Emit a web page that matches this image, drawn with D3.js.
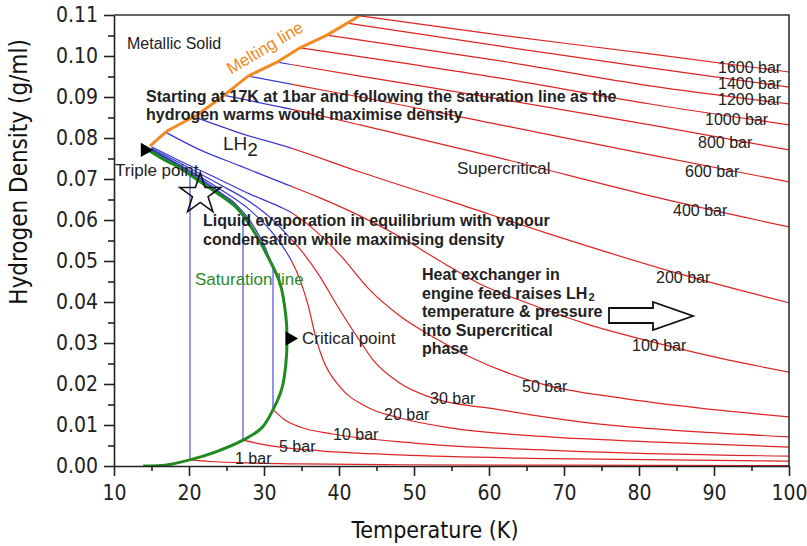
<!DOCTYPE html>
<html>
<head>
<meta charset="utf-8">
<script src="https://cdn.jsdelivr.net/npm/d3@7"></script>
<style>
  body { margin: 0; background: #fff; }
  svg { display: block; }
</style>
</head>
<body>
<script>
// axis ticks
var xTicks = [10, 20, 30, 40, 50, 60, 70, 80, 90, 100];
var yTicks = [0, 0.01, 0.02, 0.03, 0.04, 0.05, 0.06, 0.07, 0.08, 0.09, 0.10, 0.11];

// melting line and saturation (coexistence) line, [T (K), density (g/ml)]
var melting = [[14.8, 0.0780], [16.0, 0.0800], [17.07, 0.0817], [21.07, 0.0856], [24.53, 0.0902],
    [27.87, 0.0951], [31.73, 0.0985], [34.8, 0.1020], [38.4, 0.1051], [42.93, 0.1100]];
var saturation = [[13.9, 0.0000], [16.8, 0.0002], [20.1, 0.0015], [23.5, 0.0034], [27.2, 0.0063],
    [29.7, 0.0093], [31.3, 0.0141], [32.4, 0.0190], [32.9, 0.0246], [33.07, 0.0307], [32.93, 0.0363],
    [32.13, 0.0446], [30.53, 0.0510], [28.53, 0.0576], [26.4, 0.0629], [23.73, 0.0666],
    [21.07, 0.0698], [18.8, 0.0727], [16.8, 0.0746], [14.8, 0.0768]];

// supercritical isobars (blue below ~33.6 K, red above)
var p1600 = [[42.8, 0.1098], [61.5, 0.1051], [81.5, 0.1005], [100, 0.0961]];
var p1400 = [[41.07, 0.1080], [61.5, 0.1024], [81.5, 0.0971], [100, 0.0924]];
var p1200 = [[38.4, 0.1051], [61.5, 0.0988], [81.5, 0.0927], [100, 0.0883]];
var p1000 = [[34.8, 0.1020], [61.5, 0.0946], [81.5, 0.0883], [100, 0.0832]];
var p800 = [[31.73, 0.0985], [42.8, 0.0951], [61.5, 0.0895], [81.5, 0.0832], [100, 0.0771]];
var p600 = [[27.87, 0.0951], [34.8, 0.0927], [42.8, 0.0900], [61.5, 0.0832], [81.5, 0.0759], [100, 0.0693]];
var p400 = [[24.4, 0.0905], [32.13, 0.0876], [42.8, 0.0832], [61.5, 0.0751], [81.5, 0.0659], [100, 0.0583]];
var p200 = [[21.07, 0.0849], [26.8, 0.0812], [33.5, 0.0776], [42.8, 0.0717], [54.8, 0.0646],
    [67.7, 0.0568], [85.9, 0.0466], [100, 0.0398]];
var p100 = [[16.8, 0.0815], [21.47, 0.0771], [26.8, 0.0732], [32.13, 0.0693], [37.47, 0.0654],
    [42.8, 0.0610], [48.13, 0.0559], [53.47, 0.0500], [58.8, 0.0444], [65.47, 0.0395],
    [73.07, 0.0346], [82.8, 0.0298], [90.8, 0.0263], [100, 0.0229]];
var p50 = [[15.07, 0.0778], [18.8, 0.0744], [23.73, 0.0702], [28.13, 0.0663], [32.13, 0.0632],
    [33.47, 0.0620], [36.13, 0.0585], [40.13, 0.0515], [44.13, 0.0429], [48.13, 0.0366],
    [52.8, 0.0312], [57.47, 0.0266], [67.47, 0.0198], [77.47, 0.0166], [88.13, 0.0141], [100, 0.0120]];
var p30 = [[14.93, 0.0776], [18.8, 0.0739], [23.73, 0.0690], [28.13, 0.0644], [31.47, 0.0595],
    [33.47, 0.0556], [34.8, 0.0529], [37.07, 0.0473], [40.13, 0.0380], [42.53, 0.0312],
    [44.53, 0.0259], [48.13, 0.0202], [52.13, 0.0168], [61.47, 0.0137], [74.8, 0.0102],
    [88.13, 0.0083], [100, 0.0071]];
var p20 = [[14.93, 0.0773], [18.8, 0.0734], [23.73, 0.0680], [28.13, 0.0624], [30.8, 0.0576],
    [32.8, 0.0527], [33.73, 0.0498], [34.8, 0.0454], [35.87, 0.0393], [36.93, 0.0312],
    [37.87, 0.0259], [40.13, 0.0193], [43.73, 0.0144], [48.13, 0.0117], [54.8, 0.0093],
    [68.13, 0.0071], [81.47, 0.0059], [100, 0.0046]];

// subcritical isobars: liquid branch, boiling (vertical) and vapour branch
var p10Liquid = [[14.93, 0.0771], [18.8, 0.0732], [23.73, 0.0673], [28.13, 0.0598], [30.13, 0.0534], [31.2, 0.0484]];
var p10Boil = [[31.2, 0.0484], [31.2, 0.0138]];
var p10Vapour = [[31.2, 0.0138], [32.8, 0.0112], [34.8, 0.0095], [39.2, 0.0078], [50, 0.0056], [70, 0.0037], [100, 0.0024]];
var p5Liquid = [[14.93, 0.0770], [18.8, 0.0729], [23.73, 0.0670], [26.4, 0.0634], [27.2, 0.0611]];
var p5Boil = [[27.2, 0.0611], [27.2, 0.0063]];
var p5Vapour = [[27.2, 0.0063], [29.47, 0.0054], [32.13, 0.0046], [37.47, 0.0037], [48.13, 0.0027], [68.13, 0.0018], [100, 0.0012]];
var p1Liquid = [[14.8, 0.0768], [16.8, 0.0746], [18.8, 0.0727], [20.13, 0.0710]];
var p1Boil = [[20.13, 0.0710], [20.13, 0.0015]];
var p1Vapour = [[20.13, 0.0015], [22.8, 0.0011], [26.8, 0.0008], [34.8, 0.0005], [48.13, 0.0003], [68.13, 0.0002], [100, 0.0001]];

var isoLabels = ["1600 bar", "1400 bar", "1200 bar", "1000 bar", "800 bar", "600 bar", "400 bar",
    "200 bar", "100 bar", "50 bar", "30 bar", "20 bar", "10 bar", "5 bar", "1 bar"];
var labelPos = [[718, 67], [718, 83], [718, 99], [705, 119], [698, 142], [685, 171], [673, 210],
    [656, 277], [632, 345], [522, 386], [430, 398], [384, 414], [333, 434], [279, 446], [235, 458]];

var triplePt = [14.8, 0.0771];
var criticalPt = [32.9, 0.0311];
var starPt = [21.5, 0.0663];

var W = 807, H = 546;
var plotL = 114, plotR = 789, plotT = 15, plotB = 466;
var narrow = "'Liberation Sans Narrow','Arial Narrow','DejaVu Sans Condensed',sans-serif";
var sans = "'Liberation Sans',Arial,Helvetica,sans-serif";
var red = "#dd2424", blue = "#3838d0", lightBlue = "#7a7ae8";

var x = d3.scaleLinear().domain([10, 100]).range([plotL, plotR]);
var y = d3.scaleLinear().domain([0, 0.11]).range([plotB, plotT]);

var svg = d3.select("body").append("svg")
    .attr("width", W)
    .attr("height", H);

var defs = svg.append("defs");
var tc = 33.6;
defs.append("clipPath").attr("id", "liq").append("rect")
    .attr("x", plotL).attr("y", plotT).attr("width", x(tc) - plotL).attr("height", plotB - plotT);
defs.append("clipPath").attr("id", "gas").append("rect")
    .attr("x", x(tc)).attr("y", plotT).attr("width", plotR - x(tc)).attr("height", plotB - plotT);
defs.append("clipPath").attr("id", "plot").append("rect")
    .attr("x", plotL).attr("y", plotT).attr("width", plotR - plotL).attr("height", plotB - plotT);

var line = d3.line()
    .x(function (d) { return x(d[0]); })
    .y(function (d) { return y(d[1]); })
    .curve(d3.curveMonotoneX);
var straight = d3.line()
    .x(function (d) { return x(d[0]); })
    .y(function (d) { return y(d[1]); });

var plot = svg.append("g").attr("clip-path", "url(#plot)");

// supercritical isobars, drawn twice and clipped to colour them
var superIso = [p1600, p1400, p1200, p1000, p800, p600, p400, p200, p100, p50, p30, p20];
[["liq", blue], ["gas", red]].forEach(function (c) {
    plot.append("g").attr("clip-path", "url(#" + c[0] + ")")
        .selectAll("path").data(superIso).enter().append("path")
        .attr("d", line)
        .attr("fill", "none")
        .attr("stroke", c[1])
        .attr("stroke-width", 1.2);
});

// subcritical isobars
plot.selectAll(".liquid").data([p10Liquid, p5Liquid, p1Liquid]).enter().append("path")
    .attr("class", "liquid")
    .attr("d", line).attr("fill", "none").attr("stroke", blue).attr("stroke-width", 1.2);
plot.selectAll(".boil").data([p10Boil, p5Boil, p1Boil]).enter().append("path")
    .attr("class", "boil")
    .attr("d", straight)
    .attr("fill", "none").attr("stroke", lightBlue).attr("stroke-width", 1.6);
plot.selectAll(".vapour").data([p10Vapour, p5Vapour, p1Vapour]).enter().append("path")
    .attr("class", "vapour")
    .attr("d", line).attr("fill", "none").attr("stroke", red).attr("stroke-width", 1.2);

// saturation line
plot.append("path")
    .datum(saturation)
    .attr("d", d3.line().x(function (d) { return x(d[0]); }).y(function (d) { return y(d[1]); })
        .curve(d3.curveCatmullRom.alpha(0.5)))
    .attr("fill", "none").attr("stroke", "#1f8a1f").attr("stroke-width", 3);

// melting line
plot.append("path")
    .datum(melting)
    .attr("d", straight)
    .attr("fill", "none").attr("stroke", "#f28a26").attr("stroke-width", 3)
    .attr("stroke-linejoin", "round");

// axes
svg.append("g").attr("transform", "translate(0," + plotB + ")")
    .call(d3.axisBottom(x).tickValues(xTicks).tickSize(10).tickSizeOuter(0).tickPadding(9)
        .tickFormat(d3.format("d")));
svg.append("g").attr("transform", "translate(0," + plotB + ")")
    .call(d3.axisBottom(x).tickValues(d3.range(15, 100, 10)).tickSize(5).tickSizeOuter(0).tickFormat(""))
    .select(".domain").remove();
svg.append("g").attr("transform", "translate(" + plotL + ",0)")
    .call(d3.axisLeft(y).tickValues(yTicks).tickSize(10).tickSizeOuter(0).tickPadding(6)
        .tickFormat(d3.format(".2f")));
svg.append("g").attr("transform", "translate(" + plotL + ",0)")
    .call(d3.axisLeft(y).tickValues(d3.range(0.005, 0.11, 0.01)).tickSize(6).tickSizeOuter(0).tickFormat(""))
    .select(".domain").remove();

svg.selectAll(".domain, .tick line").attr("stroke", "#222").attr("stroke-width", 1.6);
svg.selectAll(".tick text").attr("font-family", narrow).attr("font-size", 21).attr("fill", "#222");

// frame (top and right)
svg.append("path")
    .attr("d", "M" + plotL + "," + plotT + "H" + plotR + "V" + plotB)
    .attr("fill", "none").attr("stroke", "#333").attr("stroke-width", 1.6);

// axis titles
svg.append("text")
    .attr("x", 435).attr("y", 538)
    .attr("text-anchor", "middle")
    .attr("font-family", narrow).attr("font-size", 23).attr("fill", "#111")
    .text("Temperature (K)");
svg.append("text")
    .attr("transform", "translate(27,172) rotate(-90)")
    .attr("text-anchor", "middle")
    .attr("font-family", narrow).attr("font-size", 24).attr("fill", "#111")
    .text("Hydrogen Density (g/ml)");

// isobar labels
svg.selectAll(".isolabel").data(isoLabels).enter().append("text")
    .attr("class", "isolabel")
    .attr("x", function (d, i) { return labelPos[i][0]; })
    .attr("y", function (d, i) { return labelPos[i][1] + 6; })
    .attr("font-family", sans).attr("font-size", 16).attr("fill", "#222")
    .text(function (d) { return d; });

// markers
var tri = d3.symbol().type(d3.symbolTriangle).size(90);
svg.append("path")
    .attr("d", tri)
    .attr("transform", "translate(" + (x(triplePt[0]) - 5) + "," + y(triplePt[1]) + ") rotate(90)")
    .attr("fill", "#000");
svg.append("path")
    .attr("d", tri)
    .attr("transform", "translate(" + (x(criticalPt[0]) + 4) + "," + y(criticalPt[1]) + ") rotate(90)")
    .attr("fill", "#000");
svg.append("path")
    .attr("d", d3.symbol().type(d3.symbolStar).size(520))
    .attr("transform", "translate(" + x(starPt[0]) + "," + y(starPt[1]) + ")")
    .attr("fill", "none").attr("stroke", "#111").attr("stroke-width", 1.6);

// region and point labels
function label(tx, ty, str, size, color, weight) {
    return svg.append("text").attr("x", tx).attr("y", ty)
        .attr("font-family", sans).attr("font-size", size)
        .attr("font-weight", weight || "normal")
        .attr("fill", color || "#222").text(str);
}
label(127, 49, "Metallic Solid", 16);
label(115, 176, "Triple point", 17);
label(302, 344, "Critical point", 17);
label(457, 174, "Supercritical", 17);
label(195, 285, "Saturation line", 17, "#2a8a2a");
var lh = label(223, 150, "LH", 19);
lh.append("tspan").attr("dy", 6).text("2");

svg.append("text")
    .attr("transform", "translate(265,48) rotate(-31)")
    .attr("text-anchor", "middle").attr("dominant-baseline", "central")
    .attr("font-family", sans).attr("font-size", 17).attr("fill", "#f08a24")
    .text("Melting line");

label(146, 102, "Starting at 17K at 1bar and following the saturation line as the", 16, "#222", "bold");
label(146, 120, "hydrogen warms would maximise density", 16, "#222", "bold");
label(203, 226, "Liquid evaporation in equilibrium with vapour", 16, "#222", "bold");
label(203, 245, "condensation while maximising density", 16, "#222", "bold");

var heat = ["Heat exchanger in", "engine feed raises LH", "temperature & pressure", "into Supercritical", "phase"];
heat.forEach(function (s, i) {
    var t = label(422, 280 + i * 18.6, s, 16, "#222", "bold");
    if (i === 1) t.append("tspan").attr("dy", 2).attr("dx", 1).attr("font-size", 11).text("2");
});

// hollow block arrow
svg.append("path")
    .attr("d", "M609,308H653V302L693,316L653,330V323H609Z")
    .attr("fill", "#fff").attr("stroke", "#111").attr("stroke-width", 1.8)
    .attr("stroke-linejoin", "miter");
</script>
</body>
</html>
